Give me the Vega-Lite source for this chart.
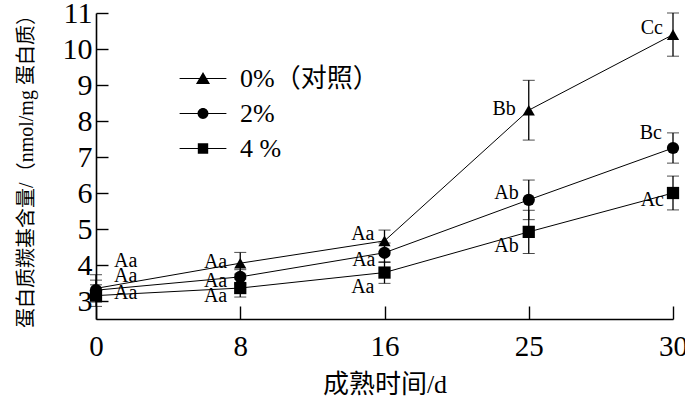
{
  "$schema": "https://vega.github.io/schema/vega-lite/v6.json",
  "width": 577,
  "height": 306,
  "autosize": "none",
  "padding": {"left": 96, "top": 13, "right": 12, "bottom": 81},
  "background": "white",
  "config": {
    "view": {"stroke": null},
    "font": "Liberation Serif",
    "axis": {"grid": false, "domainColor": "black", "tickColor": "black", "labelColor": "black", "titleColor": "black", "domainWidth": 1.6, "tickWidth": 1.4, "labelFont": "Liberation Serif", "titleFont": "Liberation Serif, Noto Sans CJK SC", "titleFontWeight": "normal"}
  },
  "data": {
    "values": [
      {"series": "0%（对照）", "day": 0, "value": 3.35, "err": 0.38, "label": "Aa"},
      {"series": "0%（对照）", "day": 8, "value": 4.05, "err": 0.3, "label": "Aa"},
      {"series": "0%（对照）", "day": 16, "value": 4.67, "err": 0.3, "label": "Aa"},
      {"series": "0%（对照）", "day": 25, "value": 8.3, "err": 0.83, "label": "Bb"},
      {"series": "0%（对照）", "day": 30, "value": 10.4, "err": 0.6, "label": "Cc"},
      {"series": "2%", "day": 0, "value": 3.3, "err": 0.28, "label": "Aa"},
      {"series": "2%", "day": 8, "value": 3.67, "err": 0.2, "label": "Aa"},
      {"series": "2%", "day": 16, "value": 4.34, "err": 0.27, "label": "Aa"},
      {"series": "2%", "day": 25, "value": 5.81, "err": 0.55, "label": "Ab"},
      {"series": "2%", "day": 30, "value": 7.25, "err": 0.42, "label": "Bc"},
      {"series": "4 %", "day": 0, "value": 3.15, "err": 0.3, "label": "Aa"},
      {"series": "4 %", "day": 8, "value": 3.36, "err": 0.25, "label": "Aa"},
      {"series": "4 %", "day": 16, "value": 3.79, "err": 0.3, "label": "Aa"},
      {"series": "4 %", "day": 25, "value": 4.92, "err": 0.6, "label": "Ab"},
      {"series": "4 %", "day": 30, "value": 6.0, "err": 0.47, "label": "Ac"}
    ]
  },
  "encoding": {
    "x": {"field": "day", "type": "ordinal", "scale": {"type": "point", "padding": 0},
      "axis": {"title": "成熟时间/d", "labelAngle": 0, "labelFontSize": 29, "titleFontSize": 26, "tickSize": -13, "labelPadding": 26, "titlePadding": 10}},
    "y": {"field": "value", "type": "quantitative", "scale": {"domain": [2.5, 11], "nice": false, "zero": false},
      "axis": {"title": "蛋白质羰基含量/（nmol/mg 蛋白质）", "values": [3, 4, 5, 6, 7, 8, 9, 10, 11], "labelFontSize": 30, "titleFontSize": 20, "tickSize": -12, "labelPadding": 16, "titlePadding": 26}}
  },
  "resolve": {"scale": {"shape": "independent"}, "legend": {"shape": "independent"}},
  "layer": [
    {"mark": {"type": "line", "color": "black", "strokeWidth": 1}, "encoding": {"detail": {"field": "series"}}},
    {"mark": {"type": "errorbar", "ticks": {"size": 12, "color": "black", "strokeWidth": 1.3}, "rule": {"color": "black", "strokeWidth": 1.3}},
      "encoding": {"yError": {"field": "err"}}},
    {"mark": {"type": "point", "filled": true, "color": "black", "opacity": 1, "size": 150},
      "encoding": {
        "shape": {"field": "series", "type": "nominal",
          "scale": {"domain": ["0%（对照）", "2%", "4 %"], "range": ["triangle-up", "circle", "square"]},
          "legend": null}
      }},
    {"mark": {"type": "point", "filled": true, "color": "black", "opacity": 0, "size": 2704},
      "encoding": {
        "shape": {"field": "series", "type": "nominal",
          "scale": {"domain": ["0%（对照）", "2%", "4 %"], "range": ["M-0.9,-0.022H0.9V0.022H-0.9ZM0,-0.25L0.27,0.21L-0.27,0.21Z", "M-0.9,-0.022H0.9V0.022H-0.9ZM0.21,0A0.21,0.21 0 1,1 -0.21,0A0.21,0.21 0 1,1 0.21,0Z", "M-0.9,-0.022H0.9V0.022H-0.9ZM-0.2,-0.2H0.2V0.2H-0.2Z"]},
          "legend": {"title": null, "orient": "none", "legendX": 80, "legendY": 48,
            "labelFont": "Liberation Serif, Noto Sans CJK SC", "labelFontSize": 26, "labelColor": "black",
            "symbolSize": 2704, "clipHeight": 35, "rowPadding": 0, "labelOffset": 10,
            "symbolFillColor": "black", "symbolOpacity": 1}}
      }},
    {"transform": [{"filter": "datum.day == 0 && datum.series == '0%（对照）'"}], "mark": {"type": "text", "align": "left", "baseline": "middle", "dx": 18, "dy": -27, "fontSize": 20, "color": "black"}, "encoding": {"text": {"field": "label"}}},
    {"transform": [{"filter": "datum.day == 0 && datum.series == '2%'"}], "mark": {"type": "text", "align": "left", "baseline": "middle", "dx": 18, "dy": -14, "fontSize": 20, "color": "black"}, "encoding": {"text": {"field": "label"}}},
    {"transform": [{"filter": "datum.day == 0 && datum.series == '4 %'"}], "mark": {"type": "text", "align": "left", "baseline": "middle", "dx": 18, "dy": -3, "fontSize": 20, "color": "black"}, "encoding": {"text": {"field": "label"}}},
    {"transform": [{"filter": "(datum.day == 8 && datum.series == '0%（对照）') || (datum.day == 25 && datum.series == '0%（对照）')"}], "mark": {"type": "text", "align": "right", "baseline": "middle", "dx": -13, "dy": -1, "fontSize": 20, "color": "black"}, "encoding": {"text": {"field": "label"}}},
    {"transform": [{"filter": "datum.day == 8 && datum.series == '2%'"}], "mark": {"type": "text", "align": "right", "baseline": "middle", "dx": -13, "dy": 4, "fontSize": 20, "color": "black"}, "encoding": {"text": {"field": "label"}}},
    {"transform": [{"filter": "datum.day == 8 && datum.series == '4 %'"}], "mark": {"type": "text", "align": "right", "baseline": "middle", "dx": -13, "dy": 8, "fontSize": 20, "color": "black"}, "encoding": {"text": {"field": "label"}}},
    {"transform": [{"filter": "(datum.day == 16 && datum.series == '0%（对照）') || (datum.day == 25 && datum.series == '2%') || (datum.day == 30 && datum.series == '0%（对照）')"}], "mark": {"type": "text", "align": "right", "baseline": "middle", "dx": -10, "dy": -7, "fontSize": 20, "color": "black"}, "encoding": {"text": {"field": "label"}}},
    {"transform": [{"filter": "(datum.day == 16 && datum.series == '2%') || (datum.day == 30 && datum.series == '4 %')"}], "mark": {"type": "text", "align": "right", "baseline": "middle", "dx": -9, "dy": 7, "fontSize": 20, "color": "black"}, "encoding": {"text": {"field": "label"}}},
    {"transform": [{"filter": "(datum.day == 16 || datum.day == 25) && datum.series == '4 %'"}], "mark": {"type": "text", "align": "right", "baseline": "middle", "dx": -10, "dy": 14, "fontSize": 20, "color": "black"}, "encoding": {"text": {"field": "label"}}},
    {"transform": [{"filter": "datum.day == 30 && datum.series == '2%'"}], "mark": {"type": "text", "align": "right", "baseline": "middle", "dx": -11, "dy": -15, "fontSize": 20, "color": "black"}, "encoding": {"text": {"field": "label"}}}
  ]
}
